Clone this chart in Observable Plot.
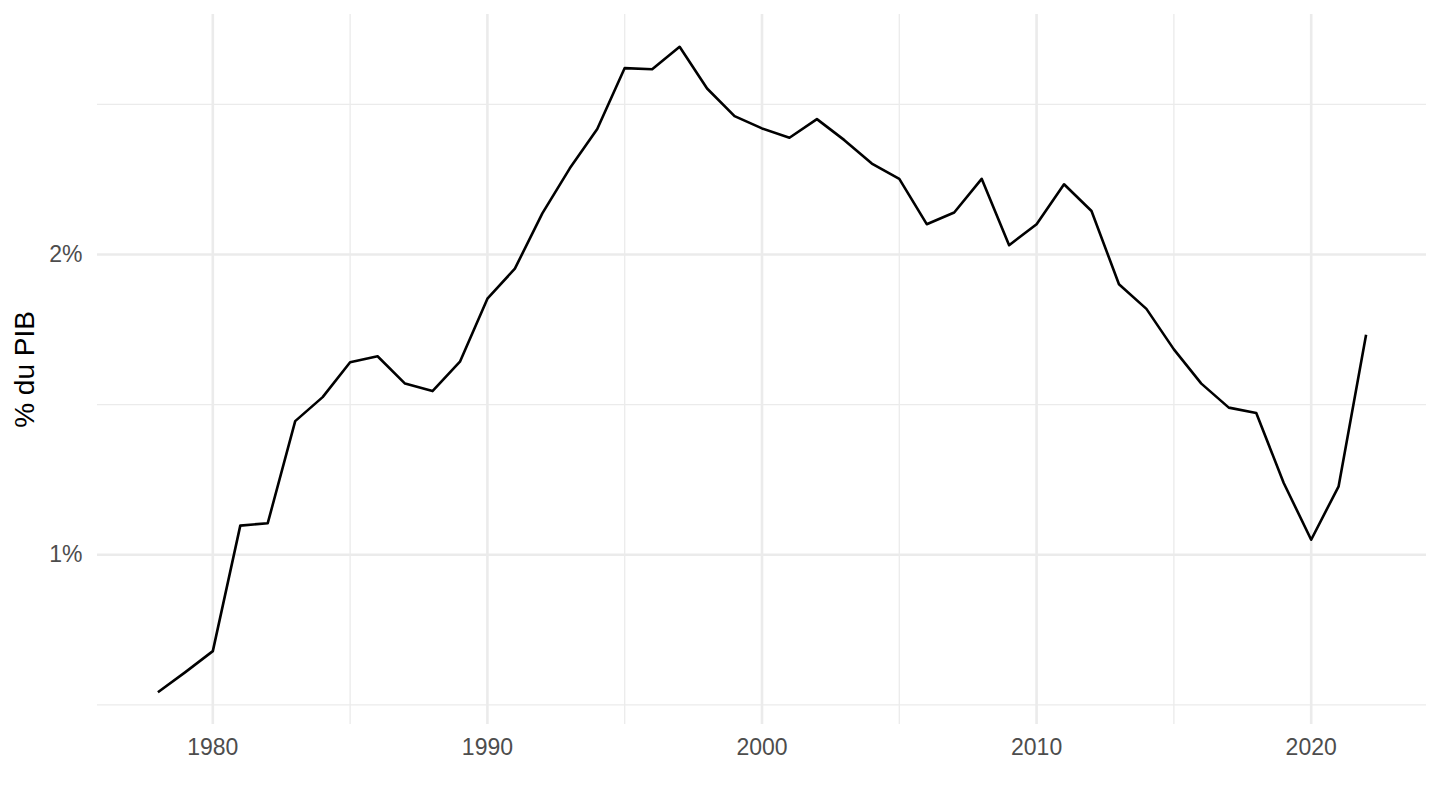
<!DOCTYPE html>
<html>
<head>
<meta charset="utf-8">
<script src="https://cdn.jsdelivr.net/npm/d3@7"></script>
<script src="https://cdn.jsdelivr.net/npm/@observablehq/plot@0.6"></script>
<style>
  html, body { margin: 0; padding: 0; background: #fff; }
  #chart svg { display: block; }
</style>
</head>
<body>
<div id="chart"></div>
<script>
const years = [1978,1979,1980,1981,1982,1983,1984,1985,1986,1987,1988,1989,1990,1991,1992,1993,1994,1995,1996,1997,1998,1999,2000,2001,2002,2003,2004,2005,2006,2007,2008,2009,2010,2011,2012,2013,2014,2015,2016,2017,2018,2019,2020,2021,2022];
const values = [0.542,0.609,0.679,1.097,1.105,1.445,1.525,1.641,1.661,1.570,1.545,1.643,1.853,1.953,2.137,2.287,2.418,2.621,2.617,2.692,2.553,2.461,2.420,2.389,2.451,2.381,2.303,2.252,2.101,2.140,2.252,2.031,2.101,2.234,2.145,1.901,1.819,1.684,1.570,1.490,1.472,1.239,1.050,1.228,1.733];
const xMajor = [1980,1990,2000,2010,2020];
const xMinor = [1985,1995,2005,2015];
const yMajor = [1,2];
const yMajorLabels = ["1%","2%"];
const yMinor = [0.5,1.5,2.5];
const yTitle = "% du PIB";

const data = years.map((y, i) => ({year: y, value: values[i]}));

const [xmin, xmax] = d3.extent(years);
const [ymin, ymax] = d3.extent(values);
const xpad = (xmax - xmin) * 0.05;
const ypad = (ymax - ymin) * 0.05;

const font = "'Liberation Sans', Arial, Helvetica, sans-serif";
const gridColor = "#ebebeb";

const chart = Plot.plot({
  width: 1440,
  height: 810,
  marginLeft: 97,
  marginRight: 14,
  marginTop: 14,
  marginBottom: 86,
  style: {fontFamily: font, background: "#ffffff"},
  x: {domain: [xmin - xpad, xmax + xpad]},
  y: {domain: [ymin - ypad, ymax + ypad]},
  marks: [
    Plot.ruleX(xMinor, {stroke: gridColor, strokeWidth: 1.3}),
    Plot.ruleY(yMinor, {stroke: gridColor, strokeWidth: 1.3}),
    Plot.ruleX(xMajor, {stroke: gridColor, strokeWidth: 2.6}),
    Plot.ruleY(yMajor, {stroke: gridColor, strokeWidth: 2.6}),
    Plot.axisX(xMajor, {tickSize: 0, tickPadding: 14, tickFormat: d => String(d), fontSize: 23, fill: "#4d4d4d", label: null}),
    Plot.axisY(yMajor, {tickSize: 0, tickPadding: 15, tickFormat: (d, i) => yMajorLabels[i], fontSize: 23, fill: "#4d4d4d", label: null}),
    Plot.line(data, {x: "year", y: "value", stroke: "#000000", strokeWidth: 2.6, strokeLinejoin: "round", strokeLinecap: "butt"}),
    Plot.text([yTitle], {text: d => d, frameAnchor: "left", textAnchor: "middle", lineAnchor: "middle", dx: -72, rotate: -90, fontSize: 28, fill: "#000000"})
  ]
});
document.getElementById("chart").appendChild(chart);
</script>
</body>
</html>
